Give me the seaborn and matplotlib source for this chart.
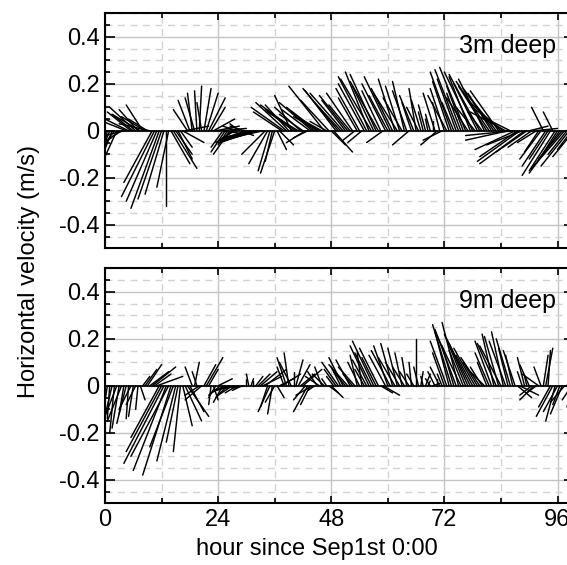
import numpy as np
import pandas as pd
import matplotlib
matplotlib.use("Agg")
import matplotlib.pyplot as plt
import seaborn as sns
from matplotlib.ticker import MultipleLocator

# === DATA (half-hourly velocity, m/s; u = east, v = north) ===
hours = np.arange(0, 100, 0.5)

u_3m = [
    -0.02, -0.03, -0.04, -0.05, -0.06, -0.05, -0.07, -0.06, -0.08, -0.10, -0.12, -0.10,
    -0.09, -0.11, -0.08, -0.12, -0.07, -0.10, -0.08, -0.13, -0.12, -0.14, -0.13, -0.12,
    -0.10, -0.08, 0.00, -0.05, 0.08, 0.10, 0.07, 0.06, 0.05, 0.09, 0.10, -0.06,
    -0.05, -0.02, -0.04, -0.01, 0.01, -0.02, 0.03, 0.05, 0.07, 0.06, 0.09, 0.10,
    0.12, 0.08, -0.05, -0.06, -0.04, -0.07, -0.05, -0.08, -0.06, -0.04, 0.05, -0.06,
    -0.09, -0.10, -0.12, -0.14, -0.15, -0.17, -0.16, -0.18, -0.10, -0.08, -0.05, -0.03,
    -0.06, 0.04, 0.06, -0.12, -0.14, -0.13, -0.10, -0.07, -0.12, -0.15, -0.13, -0.11,
    -0.10, -0.08, -0.06, -0.12, -0.14, -0.10, -0.13, -0.11, -0.09, -0.15, -0.07, -0.12,
    0.06, 0.08, -0.13, -0.15, -0.11, -0.14, -0.10, -0.12, -0.09, -0.11, -0.05, -0.08,
    -0.10, -0.06, -0.11, -0.12, -0.10, -0.13, -0.09, -0.11, -0.12, -0.08, -0.07, -0.10,
    -0.08, -0.11, -0.09, -0.07, -0.10, -0.06, -0.08, -0.05, -0.06, -0.07, -0.04, -0.06,
    -0.03, -0.05, -0.04, -0.02, -0.03, -0.01, -0.02, 0.00, -0.05, -0.07, -0.03, -0.08,
    -0.06, -0.08, -0.07, -0.09, -0.05, -0.08, -0.10, -0.06, -0.07, -0.11, -0.09, -0.09,
    -0.12, -0.08, -0.10, -0.13, -0.06, -0.11, -0.12, -0.14, -0.10, -0.13, -0.11, -0.12,
    -0.14, -0.13, -0.15, -0.18, -0.12, -0.20, -0.17, -0.16, -0.18, -0.15, -0.19, -0.13,
    0.08, -0.10, 0.10, -0.08, -0.06, -0.09, -0.05, -0.10, -0.08, -0.12, -0.04, -0.11,
    -0.09, -0.13, -0.10, -0.14, -0.08, -0.12, -0.06, -0.09,
]
v_3m = [
    -0.12, -0.14, -0.10, -0.13, -0.08, -0.11, -0.06, -0.04, -0.02, 0.04, 0.06, 0.08,
    0.07, 0.10, 0.09, 0.07, 0.11, 0.06, 0.05, 0.03, -0.22, -0.28, -0.30, -0.33,
    -0.29, -0.27, -0.32, -0.24, -0.14, -0.16, -0.10, -0.12, -0.07, -0.05, 0.02, 0.09,
    0.13, 0.16, 0.14, 0.17, 0.19, 0.12, 0.18, 0.16, 0.14, 0.10, 0.05, 0.02,
    0.01, -0.01, -0.07, -0.09, -0.06, -0.10, -0.04, -0.05, 0.02, 0.03, -0.02, 0.02,
    -0.03, -0.04, -0.03, -0.05, -0.04, -0.05, -0.03, -0.04, -0.10, -0.14, -0.17, -0.13,
    -0.18, -0.08, -0.06, 0.08, 0.10, 0.12, 0.11, 0.15, 0.09, 0.11, 0.08, 0.10,
    0.07, -0.05, -0.03, 0.09, 0.12, 0.08, 0.10, 0.06, 0.05, 0.19, 0.04, 0.13,
    -0.06, -0.09, 0.17, 0.18, 0.12, 0.16, 0.13, 0.15, 0.11, 0.16, -0.04, 0.14,
    0.18, -0.05, 0.20, 0.23, 0.25, 0.22, 0.19, 0.24, 0.21, 0.17, -0.05, 0.20,
    0.15, 0.23, 0.18, 0.22, 0.16, 0.19, 0.14, 0.21, 0.17, -0.06, 0.12, 0.15,
    0.18, 0.10, 0.13, 0.08, 0.11, 0.05, 0.07, 0.04, 0.16, -0.06, 0.12, -0.04,
    0.18, 0.15, 0.21, 0.25, 0.12, 0.22, 0.26, 0.16, 0.19, 0.27, 0.14, 0.23,
    0.25, 0.10, 0.20, 0.24, 0.08, 0.22, 0.19, 0.21, 0.16, 0.18, 0.14, 0.17,
    0.13, 0.10, 0.08, -0.04, 0.06, -0.02, -0.08, -0.11, -0.13, -0.06, -0.14, -0.09,
    0.02, -0.07, 0.01, -0.05, -0.09, -0.12, 0.10, -0.15, -0.12, -0.19, 0.08, -0.17,
    -0.14, -0.18, -0.12, -0.16, -0.10, -0.15, -0.08, -0.11,
]
u_9m = [
    -0.02, -0.03, -0.01, -0.04, -0.02, -0.05, -0.03, -0.06, -0.02, -0.04, -0.01, -0.05,
    -0.02, -0.04, -0.01, 0.02, 0.03, 0.05, 0.06, 0.08, 0.10, 0.07, 0.11, -0.12,
    -0.15, -0.17, -0.14, -0.16, -0.12, -0.10, -0.08, -0.05, -0.03, 0.04, 0.07, 0.09,
    0.06, -0.03, 0.02, -0.02, -0.06, -0.07, 0.05, 0.07, 0.04, -0.01, 0.02, -0.03,
    0.06, -0.05, -0.04, -0.06, -0.05, -0.07, -0.06, -0.08, -0.05, -0.06, -0.04, -0.05,
    0.00, -0.01, 0.01, 0.00, 0.03, 0.05, 0.07, 0.08, 0.09, -0.03, -0.05, -0.02,
    -0.04, 0.03, 0.06, 0.08, -0.03, -0.04, -0.02, -0.05, 0.00, 0.03, 0.05, 0.06,
    0.08, -0.05, -0.06, -0.04, -0.07, -0.03, -0.04, -0.06, -0.03, -0.05, -0.02, 0.04,
    0.05, -0.03, -0.05, -0.07, -0.04, -0.06, -0.05, -0.08, -0.06, -0.04, -0.07, -0.03,
    -0.05, -0.02, -0.04, -0.06, -0.08, -0.07, -0.09, -0.06, -0.08, 0.05, 0.07, -0.07,
    -0.06, -0.08, -0.05, -0.07, -0.04, -0.06, -0.03, -0.05, -0.02, -0.04, -0.01, -0.03,
    0.00, -0.02, 0.01, -0.01, 0.02, 0.01, -0.02, 0.03, -0.03, 0.00, -0.04, -0.02,
    -0.05, -0.07, -0.06, -0.08, -0.05, -0.09, -0.07, -0.10, -0.06, -0.09, -0.08, -0.10,
    -0.07, -0.09, -0.06, -0.08, -0.05, -0.06, -0.04, -0.06, -0.07, -0.05, -0.08, -0.06,
    -0.09, -0.05, -0.07, -0.04, -0.06, -0.03, -0.05, 0.06, 0.08, -0.02, -0.03, -0.01,
    -0.04, -0.05, -0.06, -0.04, -0.07, -0.03, 0.02, 0.03, 0.01, -0.05, -0.07, -0.04,
    -0.06, -0.03, -0.05, -0.06, 0.03, 0.05, -0.04, -0.03,
]
v_9m = [
    -0.16, -0.19, -0.14, -0.17, -0.20, -0.13, -0.18, -0.15, -0.12, -0.16, -0.14, -0.10,
    -0.13, -0.08, -0.10, -0.06, 0.04, 0.07, 0.09, 0.06, 0.08, 0.05, 0.04, -0.22,
    -0.28, -0.33, -0.36, -0.30, -0.38, -0.26, -0.32, -0.24, -0.28, -0.17, -0.15, -0.13,
    -0.11, 0.08, 0.10, 0.06, -0.04, -0.06, 0.09, 0.12, 0.07, -0.08, -0.06, -0.05,
    0.03, -0.04, -0.07, -0.03, -0.05, -0.02, -0.04, -0.02, -0.03, -0.01, -0.02, -0.01,
    0.03, 0.05, 0.03, 0.02, 0.04, 0.05, 0.06, 0.04, 0.07, -0.09, -0.11, -0.12,
    -0.07, -0.05, 0.03, 0.05, 0.08, 0.12, 0.14, 0.10, 0.06, 0.11, 0.09, 0.05,
    0.07, -0.06, -0.11, -0.08, -0.04, -0.02, 0.06, 0.04, 0.08, 0.05, 0.03, -0.03,
    -0.05, 0.04, 0.07, 0.10, 0.08, 0.12, 0.06, 0.09, 0.11, 0.05, 0.08, 0.13,
    0.10, 0.14, 0.07, 0.11, 0.17, 0.14, 0.19, 0.12, 0.16, -0.03, -0.04, 0.13,
    0.17, 0.15, 0.18, 0.12, 0.16, 0.10, 0.14, 0.08, 0.12, 0.06, 0.10, 0.05,
    0.20, 0.08, 0.06, 0.04, 0.05, 0.02, 0.03, 0.01, 0.06, 0.03, 0.08, 0.05,
    0.14, 0.19, 0.23, 0.26, 0.17, 0.24, 0.27, 0.21, 0.15, 0.22, 0.18, 0.20,
    0.13, 0.16, 0.10, 0.12, 0.08, 0.06, 0.10, 0.14, 0.19, 0.22, 0.18, 0.21,
    0.17, 0.23, 0.19, 0.16, 0.20, 0.13, 0.15, -0.05, -0.04, 0.06, 0.12, 0.04,
    0.09, -0.04, -0.06, -0.03, 0.05, 0.08, 0.13, 0.16, 0.15, -0.09, -0.13, -0.15,
    -0.11, -0.08, -0.12, -0.07, 0.06, 0.04, -0.06, -0.09,
]

panel_labels = ["3m deep", "9m deep"]
x_ticks = [0, 24, 48, 72, 96]
y_ticks = [-0.4, -0.2, 0, 0.2, 0.4]
y_tick_labels = ["-0.4", "-0.2", "0", "0.2", "0.4"]

STICK_SCALE = 50  # hours of x-axis per 1 m/s of east velocity (keeps angles true)


def stick_frame(t, u, v):
    rows = []
    for i, (ti, ui, vi) in enumerate(zip(t, u, v)):
        rows.append({"x": ti, "y": 0.0, "stick": i})
        rows.append({"x": ti + STICK_SCALE * ui, "y": vi, "stick": i})
    return pd.DataFrame(rows)


sns.set_style("ticks")
plt.rcParams["font.family"] = ["Liberation Sans", "DejaVu Sans"]
plt.rcParams["text.color"] = "black"
plt.rcParams["axes.labelcolor"] = "black"
FS = 17

W, H = 567, 565
fig = plt.figure(figsize=(W / 100, H / 100), dpi=100)

left, width = 105 / W, 469 / W
ax_top = fig.add_axes([left, (H - 248.3) / H, width, 235 / H])
ax_bot = fig.add_axes([left, (H - 503.3) / H, width, 235 / H])

for ax, u, v, label in [(ax_top, u_3m, v_3m, panel_labels[0]),
                        (ax_bot, u_9m, v_9m, panel_labels[1])]:
    df = stick_frame(hours, u, v)
    sns.lineplot(data=df, x="x", y="y", units="stick", estimator=None, sort=False,
                 color="black", lw=1.05, ax=ax, legend=False)
    ax.axhline(0, color="black", lw=1.2, zorder=3)

    ax.set_xlim(0, 99.5)
    ax.set_ylim(-0.5, 0.5)
    ax.set_xticks(x_ticks)
    ax.set_yticks(y_ticks)
    ax.set_yticklabels(y_tick_labels)
    ax.xaxis.set_minor_locator(MultipleLocator(12))
    ax.yaxis.set_minor_locator(MultipleLocator(0.05))

    ax.set_axisbelow(True)
    ax.grid(which="major", color="#c4c4c4", lw=1.0, ls="-")
    ax.grid(which="minor", color="#d2d2d2", lw=1.0, ls=(0, (5, 4)))

    ax.tick_params(which="both", direction="in", top=True, right=True,
                   width=1.2, labelsize=FS, pad=4, colors="black")
    ax.tick_params(axis="y", which="major", length=7)
    ax.tick_params(axis="y", which="minor", length=3.5)
    ax.tick_params(axis="x", which="major", length=5)
    ax.tick_params(axis="x", which="minor", length=3.5)
    for s in ax.spines.values():
        s.set_linewidth(1.5)
        s.set_color("black")

    ax.set_xlabel("")
    ax.set_ylabel("")
    ax.text(0.755, 0.831, label, transform=ax.transAxes, fontsize=18,
            color="black", ha="left", va="baseline")

ax_top.tick_params(axis="x", labelbottom=False)
ax_bot.set_xticklabels([str(t) for t in x_ticks])

fig.text(29 / W, 1 - 272 / H, "Horizontal velocity (m/s)", rotation=90,
         ha="center", va="center", fontsize=FS, color="black")
fig.text(317 / W, 1 - 549 / H, "hour since Sep1st 0:00",
         ha="center", va="center", fontsize=FS, color="black")

fig.savefig("out.png", dpi=100)
